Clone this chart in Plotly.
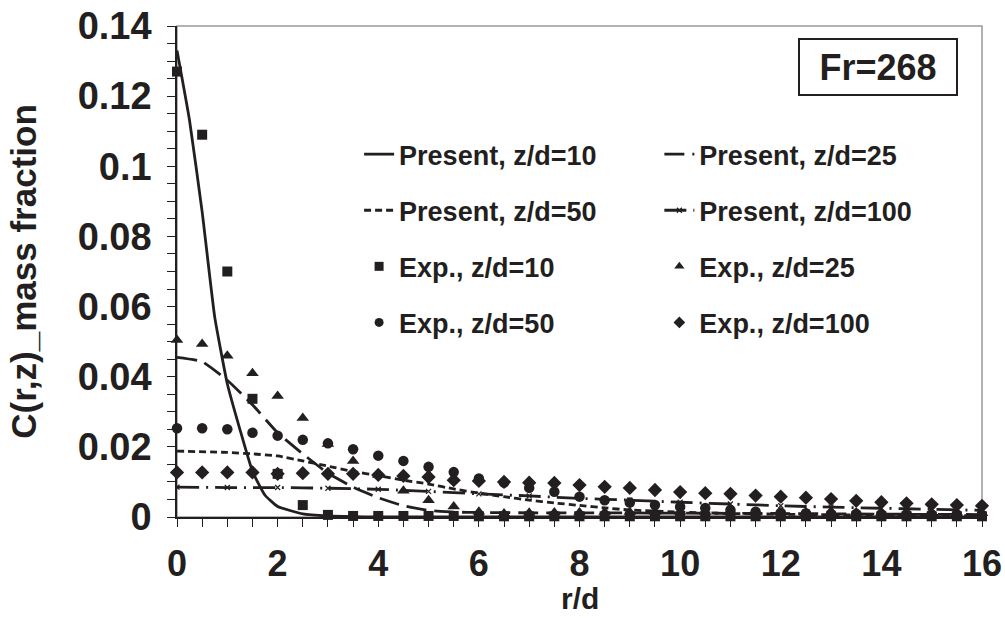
import plotly.graph_objects as go

# ---------------- data ----------------
r_exp = [0, 0.5, 1, 1.5, 2, 2.5, 3, 3.5, 4, 4.5, 5, 5.5, 6, 6.5, 7, 7.5, 8,
         8.5, 9, 9.5, 10, 10.5, 11, 11.5, 12, 12.5, 13, 13.5, 14, 14.5, 15, 15.5, 16]

exp_z10 = [0.127, 0.109, 0.070, 0.0337, 0.0123, 0.0034, 0.0006, 0.0003, 0.0003, 0.0003,
           0.0003, 0.0003, 0.0002, 0.0002, 0.0002, 0.0002, 0.0002, 0.0002, 0.0002, 0.0002,
           0.0002, 0.0002, 0.0002, 0.0002, 0.0002, 0.0002, 0.0002, 0.0002, 0.0002, 0.0002,
           0.0002, 0.0002, 0.0002]
exp_z25 = [0.0505, 0.0493, 0.046, 0.041, 0.0345, 0.0282, 0.0208, 0.016, 0.012, 0.0075,
           0.0048, 0.003, 0.0015, 0.001, 0.0012, 0.0013, 0.0013, 0.0014, 0.0014, 0.0015,
           0.0015, 0.0014, 0.0014, 0.0014, 0.0013, 0.0013, 0.0013, 0.0012, 0.0012, 0.0012,
           0.0012, 0.0012, 0.0011]
exp_z50 = [0.0253, 0.0253, 0.025, 0.024, 0.0232, 0.022, 0.021, 0.0193, 0.0175, 0.016,
           0.0143, 0.0128, 0.011, 0.0098, 0.0083, 0.0072, 0.0058, 0.0048, 0.0041, 0.0034,
           0.0029, 0.0026, 0.002, 0.0015, 0.0012, 0.0011, 0.0009, 0.0009, 0.0008, 0.0008,
           0.0007, 0.0007, 0.0006]
exp_z100 = [0.0127, 0.0127, 0.0127, 0.0127, 0.0123, 0.0125, 0.0123, 0.0123, 0.012, 0.0117,
            0.0114, 0.0105, 0.0103, 0.010, 0.0098, 0.0097, 0.0091, 0.0086, 0.0083, 0.0077,
            0.0071, 0.0068, 0.0066, 0.0061, 0.0058, 0.0055, 0.0051, 0.0046, 0.0042, 0.0039,
            0.0036, 0.0034, 0.0032]

r_p10 = [0, 0.25, 0.5, 0.75, 1.0, 1.25, 1.5, 1.75, 2.0, 2.5, 3.0, 3.5, 4, 6, 8, 10, 12, 14, 16]
p_z10 = [0.133, 0.113, 0.087, 0.057, 0.038, 0.025, 0.013, 0.0062, 0.003, 0.0009, 0.0003,
         0.0001, 0.0, 0.0, 0.0, 0.0, 0.0, 0.0, 0.0]

r_p25 = [0, 0.5, 1, 1.5, 2, 2.5, 3, 3.5, 4, 4.5, 5, 5.5, 6, 7, 8, 10, 12, 14, 16]
p_z25 = [0.0455, 0.0443, 0.039, 0.032, 0.024, 0.018, 0.0125, 0.0085, 0.0055, 0.0032,
         0.0019, 0.0014, 0.0013, 0.0012, 0.0012, 0.0011, 0.001, 0.0008, 0.0007]

r_p50 = [0, 1, 1.5, 2, 2.5, 3, 3.5, 4, 4.5, 5, 5.5, 6, 6.5, 7, 7.5, 8, 8.5, 9, 10, 11, 12, 14, 16]
p_z50 = [0.0188, 0.0184, 0.018, 0.0174, 0.016, 0.0145, 0.013, 0.0118, 0.0105, 0.0094,
         0.008, 0.0068, 0.0058, 0.0048, 0.004, 0.0033, 0.0026, 0.002, 0.0014, 0.001,
         0.0008, 0.0005, 0.0004]

r_p100 = [0, 1, 2, 3, 4, 5, 6, 7, 8, 9, 10, 11, 12, 13, 14, 15, 16]
p_z100 = [0.0085, 0.0084, 0.0084, 0.0082, 0.0079, 0.0073, 0.0066, 0.006, 0.0053, 0.0048,
          0.0042, 0.0037, 0.0032, 0.0028, 0.0025, 0.0022, 0.0019]

x_ticks = [0, 2, 4, 6, 8, 10, 12, 14, 16]
y_ticks = [0, 0.02, 0.04, 0.06, 0.08, 0.1, 0.12, 0.14]
y_tick_text = ["0", "0.02", "0.04", "0.06", "0.08", "0.1", "0.12", "0.14"]

# ---------------- styles ----------------
FONT = "Liberation Sans, Arial, sans-serif"
BLACK = "#231f20"
LW = 2.8

line_styles = {
    "Present, z/d=10": dict(color=BLACK, width=LW),
    "Present, z/d=25": dict(color=BLACK, width=LW, dash="20px,8px"),
    "Present, z/d=50": dict(color=BLACK, width=LW, dash="7px,4px"),
    "Present, z/d=100": dict(color=BLACK, width=LW, dash="22px,7px,2px,7px"),
}
marker_styles = {
    "Exp., z/d=10": ("square", 10, 9),
    "Exp., z/d=25": ("triangle-up", 11, 9),
    "Exp., z/d=50": ("circle", 10.5, 9),
    "Exp., z/d=100": ("diamond", 11, 9),
}

fig = go.Figure()

models = [("Present, z/d=10", r_p10, p_z10, "legend"),
          ("Present, z/d=25", r_p25, p_z25, "legend2"),
          ("Present, z/d=50", r_p50, p_z50, "legend"),
          ("Present, z/d=100", r_p100, p_z100, "legend2")]
for i, (name, xs, ys, lg) in enumerate(models):
    ls = dict(line_styles[name], shape="spline", smoothing=0.4)
    is100 = name.endswith("100")
    fig.add_trace(go.Scatter(
        x=xs, y=ys, mode="lines+markers" if is100 else "lines", name=name,
        line=ls,
        marker=dict(symbol="x-thin", size=5, color=BLACK, line=dict(width=1.2, color=BLACK)),
        legend=lg, legendgroup="m%d" % i, legendrank=i + 1))

exps = [("Exp., z/d=10", exp_z10, "legend"),
        ("Exp., z/d=25", exp_z25, "legend2"),
        ("Exp., z/d=50", exp_z50, "legend"),
        ("Exp., z/d=100", exp_z100, "legend2")]
for i, (name, ys, lg) in enumerate(exps):
    sym, size, lsize = marker_styles[name]
    # data markers
    fig.add_trace(go.Scatter(x=r_exp, y=ys, mode="markers", name=name,
                             marker=dict(symbol=sym, size=size, color=BLACK),
                             cliponaxis=False, showlegend=False, legendgroup="e%d" % i))
    # legend entry (smaller symbol, as in the original key)
    fig.add_trace(go.Scatter(x=[None], y=[None], mode="markers", name=name,
                             marker=dict(symbol=sym, size=lsize, color=BLACK),
                             legend=lg, legendgroup="e%d" % i, legendrank=10 + i))

legend_common = dict(
    font=dict(family=FONT, size=27, color=BLACK, weight="bold"),
    bgcolor="rgba(0,0,0,0)", borderwidth=0,
    xanchor="left", yanchor="top",
    tracegroupgap=18, itemclick=False, itemdoubleclick=False,
)

fig.update_layout(
    width=1005, height=618,
    margin=dict(l=177, r=23, t=26, b=101, autoexpand=False),
    paper_bgcolor="white", plot_bgcolor="white",
    font=dict(family=FONT, color=BLACK),
    showlegend=True,
    legend=dict(x=0.2262, y=0.788, **legend_common),
    legend2=dict(x=0.5992, y=0.788, **legend_common),
    xaxis=dict(
        range=[0, 16], tickvals=x_ticks, ticktext=[str(v) for v in x_ticks],
        showgrid=False, zeroline=False, automargin=False,
        showline=True, linecolor=BLACK, linewidth=1.5,
        ticks="outside", ticklen=8, tickwidth=1, tickcolor=BLACK,
        minor=dict(dtick=0.5, ticks="outside", ticklen=8, tickwidth=1, tickcolor=BLACK, showgrid=False),
        tickfont=dict(family=FONT, size=36, color=BLACK, weight="bold"),
        ticklabelstandoff=6,
    ),
    yaxis=dict(
        range=[0, 0.14], tickvals=y_ticks, ticktext=y_tick_text,
        showgrid=False, zeroline=False, automargin=False,
        showline=True, linecolor=BLACK, linewidth=1.5,
        ticks="outside", ticklen=8, tickwidth=1, tickcolor=BLACK,
        minor=dict(dtick=0.005, ticks="outside", ticklen=8, tickwidth=1, tickcolor=BLACK, showgrid=False),
        tickfont=dict(family=FONT, size=38, color=BLACK, weight="bold"),
        ticklabelstandoff=8,
        title=dict(text="C(r,z)_mass fraction",
                   font=dict(family=FONT, size=35, color=BLACK, weight="bold"),
                   standoff=30),
    ),
    shapes=[dict(type="rect", xref="paper", yref="paper", x0=0, x1=1, y0=0, y1=1,
                 line=dict(color="#999999", width=1.5), layer="below")],
    annotations=[
        dict(text="Fr=268", xref="paper", yref="paper", x=0.8709, y=0.9155,
             xanchor="center", yanchor="middle", showarrow=False,
             font=dict(family=FONT, size=36, color=BLACK, weight="bold"),
             bordercolor=BLACK, borderwidth=2, borderpad=1, width=154, height=52,
             bgcolor="white"),
        dict(text="r/d", xref="paper", yref="paper", x=0.5006, y=-0.167,
             xanchor="center", yanchor="middle", showarrow=False,
             font=dict(family=FONT, size=30, color=BLACK, weight="bold")),
    ],
)

fig.write_html("out.html")
